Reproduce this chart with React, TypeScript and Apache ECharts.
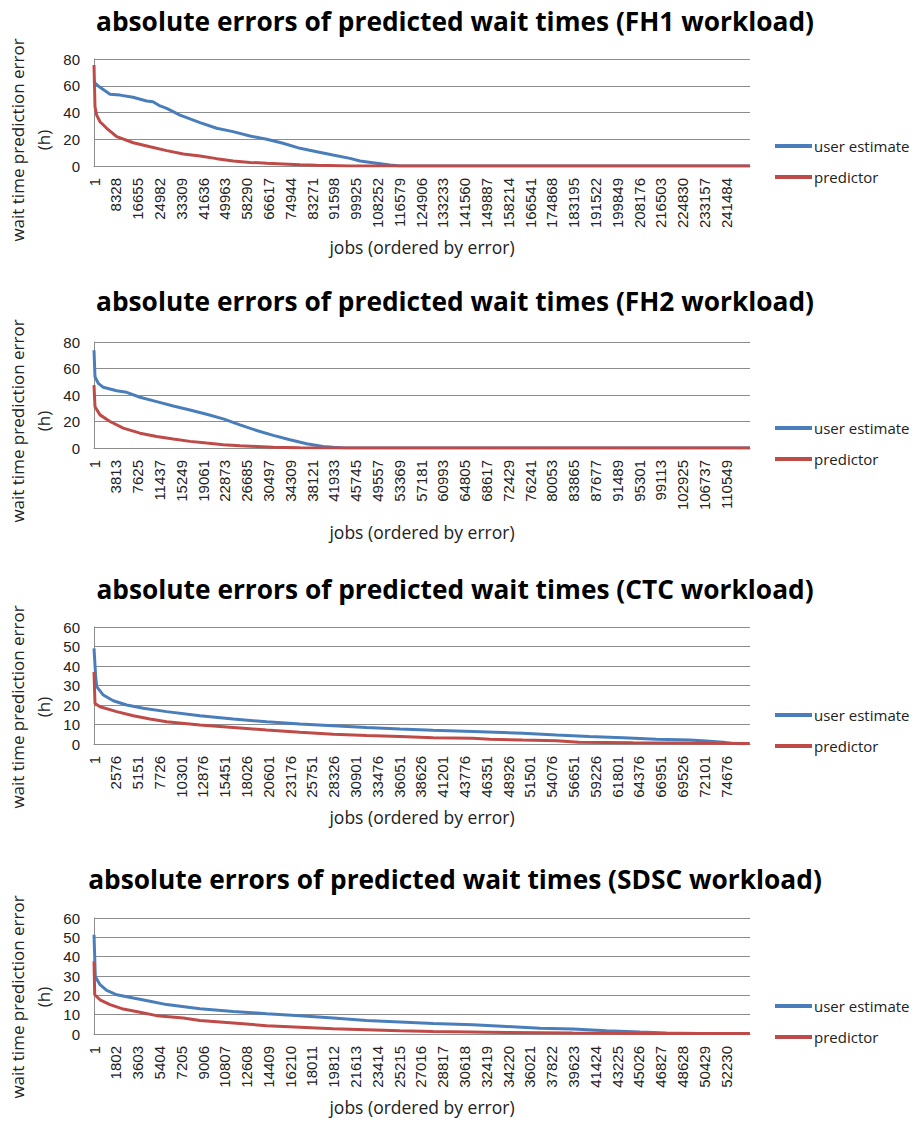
import React, { useEffect, useRef } from "react";
import * as echarts from "echarts";

// ---------- data ----------
const titles = [
  "absolute errors of predicted wait times (FH1 workload)",
  "absolute errors of predicted wait times (FH2 workload)",
  "absolute errors of predicted wait times (CTC workload)",
  "absolute errors of predicted wait times (SDSC workload)",
];
const seriesNames = ["user estimate", "predictor"];
const jobCounts = [250500, 114700, 77500, 54200];

const fh1Ticks = [1, 8328, 16655, 24982, 33309, 41636, 49963, 58290, 66617, 74944, 83271, 91598, 99925, 108252, 116579, 124906, 133233, 141560, 149887, 158214, 166541, 174868, 183195, 191522, 199849, 208176, 216503, 224830, 233157, 241484];
const fh2Ticks = [1, 3813, 7625, 11437, 15249, 19061, 22873, 26685, 30497, 34309, 38121, 41933, 45745, 49557, 53369, 57181, 60993, 64805, 68617, 72429, 76241, 80053, 83865, 87677, 91489, 95301, 99113, 102925, 106737, 110549];
const ctcTicks = [1, 2576, 5151, 7726, 10301, 12876, 15451, 18026, 20601, 23176, 25751, 28326, 30901, 33476, 36051, 38626, 41201, 43776, 46351, 48926, 51501, 54076, 56651, 59226, 61801, 64376, 66951, 69526, 72101, 74676];
const sdscTicks = [1, 1802, 3603, 5404, 7205, 9006, 10807, 12608, 14409, 16210, 18011, 19812, 21613, 23414, 25215, 27016, 28817, 30618, 32419, 34220, 36021, 37822, 39623, 41424, 43225, 45026, 46827, 48628, 50429, 52230];

const fh1UserJobs = [1, 382, 2291, 6110, 9929, 14894, 20126, 22532, 25205, 27764, 32843, 40481, 46858, 53084, 59576, 65954, 72179, 78671, 85049, 91274, 97766, 101585, 106550, 113043, 116861, 250500];
const fh1UserErr = [64, 62, 58.8, 53.6, 53, 51.4, 48.6, 48, 44.9, 43.1, 38, 32.4, 28.2, 25.7, 22.4, 20, 17, 13.2, 10.7, 8.2, 5.7, 3.7, 2.5, 0.7, 0, 0];
const fh1PredJobs = [1, 382, 1031, 2291, 4850, 8669, 15008, 21386, 27764, 34104, 40481, 46858, 53198, 59576, 65954, 72179, 78671, 85049, 97766, 250500];
const fh1PredErr = [75.5, 44.3, 38, 33.1, 28.2, 21.9, 17.4, 14.4, 11.5, 9, 7.5, 5.5, 3.7, 2.7, 2, 1.5, 1, 0.6, 0, 0];

const fh2UserJobs = [1, 175, 752, 1626, 3968, 5716, 8041, 10960, 13862, 16781, 19700, 22602, 25521, 28440, 31342, 34261, 37180, 40082, 41830, 43875, 114700];
const fh2UserErr = [73.8, 53.8, 48.8, 45.8, 43.2, 42, 38.3, 35, 31.7, 28.7, 25.5, 22, 17.5, 13.2, 9.5, 6.2, 3.2, 1.2, 0.5, 0, 0];
const fh2PredJobs = [1, 175, 1049, 2797, 5122, 8041, 10960, 13862, 16781, 19700, 22602, 25521, 28440, 31342, 36009, 41830, 114700];
const fh2PredErr = [47.5, 31.2, 25, 20, 15, 11.2, 8.7, 6.8, 5, 3.7, 2.5, 1.7, 1.2, 0.6, 0.2, 0, 0];

const ctcUserJobs = [1, 200, 319, 1098, 2279, 3862, 5822, 8586, 12519, 16451, 20396, 24329, 28261, 32206, 36139, 40035, 44760, 50665, 54646, 58480, 62511, 66455, 70388, 72360, 74321, 75466, 77000];
const ctcUserErr = [49, 34.5, 29.4, 25.1, 22.2, 20, 18.3, 16.6, 14.5, 12.8, 11.4, 10.3, 9.4, 8.5, 7.7, 7.1, 6.4, 5.5, 4.6, 3.8, 3.2, 2.4, 2, 1.5, 0.9, 0.3, 0.1];
const ctcPredJobs = [1, 118, 709, 2681, 4641, 6614, 8586, 12519, 16451, 20396, 24329, 28261, 32206, 36139, 40071, 44760, 46768, 50665, 54646, 57259, 63656, 72360, 77474];
const ctcPredErr = [37, 20.8, 19.1, 16.6, 14.5, 12.8, 11.4, 9.7, 8.5, 7.2, 6, 5, 4.3, 3.8, 3.2, 2.9, 2.4, 2, 1.7, 0.9, 0.6, 0.4, 0.2];

const sdscUserJobs = [1, 107, 496, 1049, 1875, 3246, 4626, 6005, 8756, 11506, 14265, 17016, 19766, 22525, 25276, 28026, 31305, 34089, 36840, 39565, 42349, 45100, 47304, 50056, 54186];
const sdscUserErr = [51.3, 29.8, 25.5, 22.6, 20.3, 18.6, 16.9, 15.2, 13.1, 11.7, 10.5, 9.5, 8.3, 7, 6.2, 5.4, 4.8, 3.9, 3, 2.6, 1.7, 1, 0.5, 0.2, 0.2];
const sdscPredJobs = [1, 60, 496, 1322, 2420, 3800, 5179, 7376, 8756, 11506, 14265, 17016, 19766, 22525, 25276, 28026, 34089, 39565, 45100, 54186];
const sdscPredErr = [37.6, 20.3, 17.7, 15.2, 12.9, 11.2, 9.5, 8.3, 7, 5.7, 4.3, 3.5, 2.7, 2.2, 1.7, 1.3, 0.8, 0.5, 0.3, 0.3];

const yMaxes = [80, 80, 60, 60];
const ySteps = [20, 20, 10, 10];
const tickSets = [fh1Ticks, fh2Ticks, ctcTicks, sdscTicks];
const userSets = [
  [fh1UserJobs, fh1UserErr],
  [fh2UserJobs, fh2UserErr],
  [ctcUserJobs, ctcUserErr],
  [sdscUserJobs, sdscUserErr],
];
const predSets = [
  [fh1PredJobs, fh1PredErr],
  [fh2PredJobs, fh2PredErr],
  [ctcPredJobs, ctcPredErr],
  [sdscPredJobs, sdscPredErr],
];

// ---------- layout / style ----------
const W = 918;
const H = 1122;
const gridTops = [59, 342, 627, 918];
const gridHeights = [107, 106, 117, 116];
const titleTops = [0, 280, 568, 858];
const legendTops = [133, 415, 702, 993];
const xNameGaps = [72, 75, 64, 64];
const yNameCenters = [140, 421, 707, 997];
const BLUE = "#4A7EBB";
const RED = "#BE4B48";
const GRIDC = "#8C8C8C";
const NUMFONT = '"Liberation Sans", Arial, sans-serif';
const TXTFONT = '"Open Sans", sans-serif';

const pairs = (xs: number[], ys: number[]) => xs.map((x, i) => [x, ys[i]]);

function buildOption() {
  const grid: any[] = [];
  const xAxis: any[] = [];
  const yAxis: any[] = [];
  const series: any[] = [];
  const title: any[] = [];
  const legend: any[] = [];
  const graphic: any[] = [];
  for (let i = 0; i < 4; i++) {
    grid.push({ left: 94, width: 656, top: gridTops[i], height: gridHeights[i], containLabel: false });
    title.push({
      text: titles[i],
      left: 450,
      textAlign: "center",
      top: titleTops[i],
      textStyle: { fontFamily: TXTFONT, fontWeight: "bold", fontSize: 26.3, lineHeight: 32, color: "#000" },
    });
    xAxis.push({
      type: "value",
      gridIndex: i,
      min: 0,
      max: jobCounts[i],
      name: "jobs (ordered by error)",
      nameLocation: "middle",
      nameGap: xNameGaps[i],
      nameTextStyle: { fontFamily: TXTFONT, fontSize: 17.5, color: "#222" },
      axisLine: { show: true, lineStyle: { color: GRIDC, width: 1 } },
      axisTick: { show: false },
      splitLine: { show: false },
      axisLabel: {
        customValues: tickSets[i],
        rotate: 90,
        margin: 12,
        padding: [7, 0, 0, 0],
        fontFamily: NUMFONT,
        fontSize: 15,
        color: "#222",
        formatter: (v: number) => String(v),
      },
    });
    yAxis.push({
      type: "value",
      gridIndex: i,
      min: 0,
      max: yMaxes[i],
      interval: ySteps[i],
      axisLine: { show: true, lineStyle: { color: GRIDC, width: 1 } },
      axisTick: { show: false },
      splitLine: { show: true, lineStyle: { color: GRIDC, width: 1 } },
      axisLabel: { margin: 14, fontFamily: NUMFONT, fontSize: 15, color: "#222" },
    });
    series.push({
      name: seriesNames[0],
      type: "line",
      xAxisIndex: i,
      yAxisIndex: i,
      showSymbol: false,
      symbol: "none",
      data: pairs(userSets[i][0], userSets[i][1]),
      lineStyle: { color: BLUE, width: 3 },
      itemStyle: { color: BLUE },
    });
    series.push({
      name: seriesNames[1],
      type: "line",
      xAxisIndex: i,
      yAxisIndex: i,
      showSymbol: false,
      symbol: "none",
      data: pairs(predSets[i][0], predSets[i][1]),
      lineStyle: { color: RED, width: 3 },
      itemStyle: { color: RED },
    });
    legend.push({
      data: seriesNames,
      orient: "vertical",
      left: 770,
      top: legendTops[i],
      icon: "rect",
      itemWidth: 37,
      itemHeight: 4,
      itemGap: 15,
      selectedMode: false,
      textStyle: { fontFamily: TXTFONT, fontSize: 15, lineHeight: 16, color: "#222", padding: [0, 0, 0, -3] },
    });
    graphic.push({
      type: "text",
      x: 30,
      y: yNameCenters[i],
      rotation: Math.PI / 2,
      style: {
        text: "wait time prediction error\n(h)",
        textAlign: "center",
        textVerticalAlign: "middle",
        align: "center",
        verticalAlign: "middle",
        fontFamily: TXTFONT,
        fontSize: 17,
        lineHeight: 26,
        fill: "#222",
      },
    });
  }
  return {
    animation: false,
    backgroundColor: "#fff",
    title,
    legend,
    grid,
    xAxis,
    yAxis,
    series,
    graphic,
  };
}

export default function App() {
  const ref = useRef<HTMLDivElement>(null);
  useEffect(() => {
    if (!ref.current) return;
    const chart = echarts.init(ref.current, undefined, { renderer: "svg" });
    chart.setOption(buildOption() as any);
    return () => chart.dispose();
  }, []);
  return (
    <div
      ref={ref}
      style={{ position: "absolute", left: 0, top: 0, width: W, height: H, background: "#fff" }}
    />
  );
}
